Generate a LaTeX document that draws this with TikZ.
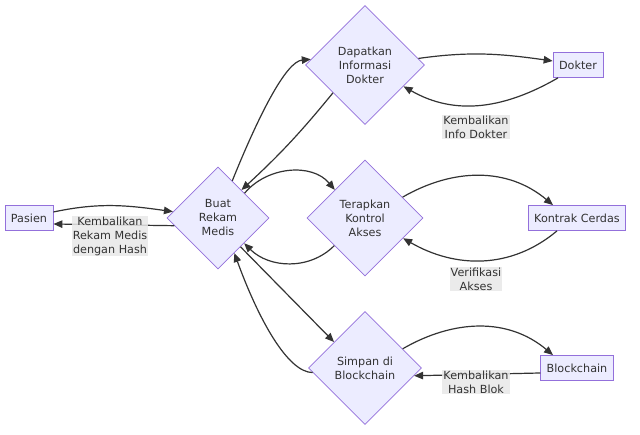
\documentclass[tikz,border=0pt]{standalone}
\usepackage{fontspec}
\setmainfont{DejaVu Sans}
\usetikzlibrary{shapes.geometric,arrows.meta}
\definecolor{nodefill}{HTML}{ECECFF}
\definecolor{nodeline}{HTML}{9370DB}
\definecolor{txt}{HTML}{333333}
\definecolor{lblbg}{HTML}{E8E8E8}
\tikzset{
  every node/.style={text=txt,font=\fontsize{11.2}{14}\selectfont},
  boxnode/.style={draw=nodeline,fill=nodefill,line width=0.8pt,minimum height=25pt,inner xsep=6pt,inner ysep=0pt},
  decision/.style={diamond,aspect=1,draw=nodeline,fill=nodefill,line width=0.8pt,inner sep=0pt,align=center},
  lbl/.style={fill=lblbg,fill opacity=0.85,text opacity=1,inner sep=1pt,align=center},
  arr/.style={draw=txt,line width=1.2pt,-{Triangle[length=9pt,width=7.5pt]}}
}
\begin{document}
\begin{tikzpicture}[x=1pt,y=1pt]
\useasboundingbox (0,0) rectangle (640,435);
\node[boxnode] (pas) at (29,217) {Pasien};
\node[decision,minimum size=102pt] (buat) at (218,217) {Buat\\Rekam\\Medis};
\node[decision,minimum size=119pt] (dap) at (365,370) {Dapatkan\\Informasi\\Dokter};
\node[boxnode] (dok) at (578,370) {Dokter};
\node[decision,minimum size=116pt] (ter) at (365,217) {Terapkan\\Kontrol\\Akses};
\node[boxnode] (kon) at (577,217) {Kontrak Cerdas};
\node[decision,minimum size=113pt] (sim) at (365,67) {Simpan di\\Blockchain};
\node[boxnode] (blk) at (577,67) {Blockchain};

% Pasien <-> Buat
\draw[arr] ([yshift=6pt]pas.east) to[out=12,in=172] (buat.172);
\draw[arr] (buat.190) -- ([yshift=-6pt]pas.east);
\node[lbl] (l1) at (110,199) {Kembalikan\\Rekam Medis\\dengan Hash};

% Buat <-> Dapatkan
\draw[arr] (buat.69) .. controls +(68:70) and +(185:25) .. (dap.174);
\draw[arr] (dap.221) to[bend left=4] (buat.50);

% Buat <-> Terapkan
\draw[arr] (buat.43) to[out=50,in=130] (ter.137);
\draw[arr] (ter.222) to[out=225,in=-45] (buat.-44);

% Buat <-> Simpan
\draw[arr] (buat.-52) -- (sim.140);
\draw[arr] (sim.185) .. controls +(180:25) and +(-70:70) .. (buat.-65);

% Dapatkan <-> Dokter
\draw[arr] (dap.7) to[out=8,in=172] ([yshift=4pt]dok.west);
\draw[arr] ([xshift=-20pt]dok.south) to[out=210,in=-30] (dap.-29);
\node[lbl] (l2) at (476,308) {Kembalikan\\Info Dokter};

% Terapkan <-> Kontrak
\draw[arr] (ter.29) to[out=30,in=140] ([xshift=-24pt]kon.north);
\draw[arr] ([xshift=-20pt]kon.south) to[out=220,in=-30] (ter.-28);
\node[lbl] (l3) at (476,156) {Verifikasi\\Akses};

% Simpan <-> Blockchain
\draw[arr] (sim.27) to[out=30,in=140] ([xshift=-24pt]blk.north);
\draw[arr] ([yshift=-5pt]blk.west) -- (sim.-9);
\node[lbl] (l4) at (476,53) {Kembalikan\\Hash Blok};
\end{tikzpicture}
\end{document}
